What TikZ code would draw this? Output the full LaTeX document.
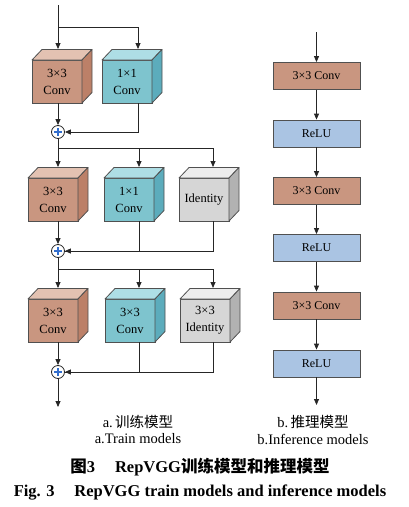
\documentclass[tikz,border=0pt]{standalone}
\usepackage{fontspec}
\setmainfont{Liberation Serif}
\newfontfamily\cjk{Noto Sans CJK SC}
\usetikzlibrary{arrows.meta}
\definecolor{convfront}{RGB}{201,150,128}
\definecolor{convtop}{RGB}{227,194,178}
\definecolor{convside}{RGB}{188,128,104}
\definecolor{onefront}{RGB}{126,196,206}
\definecolor{onetop}{RGB}{174,222,229}
\definecolor{oneside}{RGB}{92,172,188}
\definecolor{idfront}{RGB}{214,214,214}
\definecolor{idtop}{RGB}{237,237,237}
\definecolor{idside}{RGB}{178,178,178}
\definecolor{relufill}{RGB}{170,196,227}
\definecolor{edgegray}{RGB}{80,80,80}
\definecolor{plusblue}{RGB}{50,110,205}
\tikzset{
  cubefront/.style={draw=edgegray,line width=0.8pt,anchor=north west,minimum width=50pt,minimum height=43pt,
    inner sep=0pt,outer sep=0pt,align=center,font=\fontsize{12.5}{17}\selectfont},
  cubeedge/.style={draw=edgegray,line width=0.8pt,line join=round},
  flatbox/.style={draw=edgegray,line width=0.8pt,minimum width=87pt,minimum height=27pt,inner sep=0pt,
    font=\fontsize{12}{14}\selectfont},
  plus/.style={circle,draw=black!85,fill=white,line width=0.8pt,minimum size=13pt,inner sep=0pt,
    path picture={\draw[plusblue,line width=1.1pt]
      ([xshift=-4pt]path picture bounding box.center) -- ([xshift=4pt]path picture bounding box.center)
      ([yshift=-4pt]path picture bounding box.center) -- ([yshift=4pt]path picture bounding box.center);}},
  link/.style={draw=black!85,line width=0.8pt},
  arr/.style={link,-{Triangle[length=6pt,width=5pt]}},
  subcap/.style={font=\fontsize{14.5}{16}\selectfont},
  maincap/.style={font=\fontsize{16.5}{18}\selectfont\bfseries}
}
% cube: name, front top-left corner, colour, text
\newcommand{\drawcube}[4]{%
  \node[cubefront,fill=#3front] (#1) at (#2) {#4};
  \draw[cubeedge,fill=#3top] (#1.north west) -- ++(10,-10.5) -- ++(50,0) -- (#1.north east) -- cycle;
  \draw[cubeedge,fill=#3side] (#1.north east) -- ++(10,-10.5) -- ++(0,43) -- (#1.south east) -- cycle;
}
\begin{document}
\begin{tikzpicture}[x=1pt,y=-1pt]
\useasboundingbox (0,0) rectangle (408,507);
% training model
\drawcube{c11}{32,60}{conv}{3\texttimes3\\Conv}
\drawcube{c12}{102,60}{one}{1\texttimes1\\Conv}
\drawcube{c21}{28,178}{conv}{3\texttimes3\\Conv}
\drawcube{c22}{104,178}{one}{1\texttimes1\\Conv}
\drawcube{c23}{179,178}{id}{Identity}
\drawcube{c31}{28,299}{conv}{3\texttimes3\\Conv}
\drawcube{c32}{105,299}{one}{3\texttimes3\\Conv}
\drawcube{c33}{180,299}{id}{3\texttimes3\\Identity}
\node[plus] (p1) at (58,132) {};
\node[plus] (p2) at (58,251) {};
\node[plus] (p3) at (58,372) {};
\coordinate (in1) at (58,5);
\coordinate (s1) at (58,27);
\coordinate (t11) at (58,49);
\coordinate (t12) at (138,49);
\coordinate (s2) at (58,148);
\coordinate (t21) at (58,167);
\coordinate (t22) at (139,167);
\coordinate (t23) at (213,167);
\coordinate (s3) at (58,269);
\coordinate (t31) at (58,288);
\coordinate (t32) at (139,288);
\coordinate (t33) at (213,288);
\coordinate (out1) at (58,407);
\draw[link] (in1) -- (s1);
\draw[arr] (s1) -- (t11);
\draw[arr] (s1) -| (t12);
\draw[arr] (c11.south -| p1) -- (p1);
\draw[arr] (c12.south -| t12) |- (p1);
\draw[link] (p1) -- (s2);
\draw[arr] (s2) -- (t21);
\draw[arr] (s2) -| (t22);
\draw[arr] (s2) -| (t23);
\draw[arr] (c21.south -| p2) -- (p2);
\draw[link] (c23.south -| t23) |- (p2);
\draw[arr] (c22.south -| t22) |- (p2);
\draw[link] (p2) -- (s3);
\draw[arr] (s3) -- (t31);
\draw[arr] (s3) -| (t32);
\draw[arr] (s3) -| (t33);
\draw[arr] (c31.south -| p3) -- (p3);
\draw[link] (c33.south -| t33) |- (p3);
\draw[arr] (c32.south -| t32) |- (p3);
\draw[arr] (p3) -- (out1);
% inference model
\node[flatbox,fill=convfront] (r1) at (316.5,76) {3\texttimes3 Conv};
\node[flatbox,fill=relufill] (r2) at (316.5,133.5) {ReLU};
\node[flatbox,fill=convfront] (r3) at (316.5,191) {3\texttimes3 Conv};
\node[flatbox,fill=relufill] (r4) at (316.5,248) {ReLU};
\node[flatbox,fill=convfront] (r5) at (316.5,305.5) {3\texttimes3 Conv};
\node[flatbox,fill=relufill] (r6) at (316.5,363.5) {ReLU};
\coordinate (in2) at (316.5,32);
\coordinate (out2) at (316.5,405);
\draw[arr] (in2) -- (r1);
\foreach \a/\b in {r1/r2,r2/r3,r3/r4,r4/r5,r5/r6}
  \draw[arr] (\a) -- (\b);
\draw[arr] (r6) -- (out2);
% captions
\node[subcap] (capa1) at (138,422) {a.\,{\cjk 训练模型}};
\node[subcap] (capa2) at (138,439) {a.Train models};
\node[subcap] (capb1) at (313,422) {b.\,{\cjk 推理模型}};
\node[subcap] (capb2) at (313,439) {b.Inference models};
\node[maincap] (cap1) at (200,467) {{\cjk 图}3\hspace{1.2em}RepVGG{\cjk 训练模型和推理模型}};
\node[maincap] (cap2) at (200,493) {Fig. 3\hspace{1.2em}RepVGG train models and inference models};
\end{tikzpicture}
\end{document}
